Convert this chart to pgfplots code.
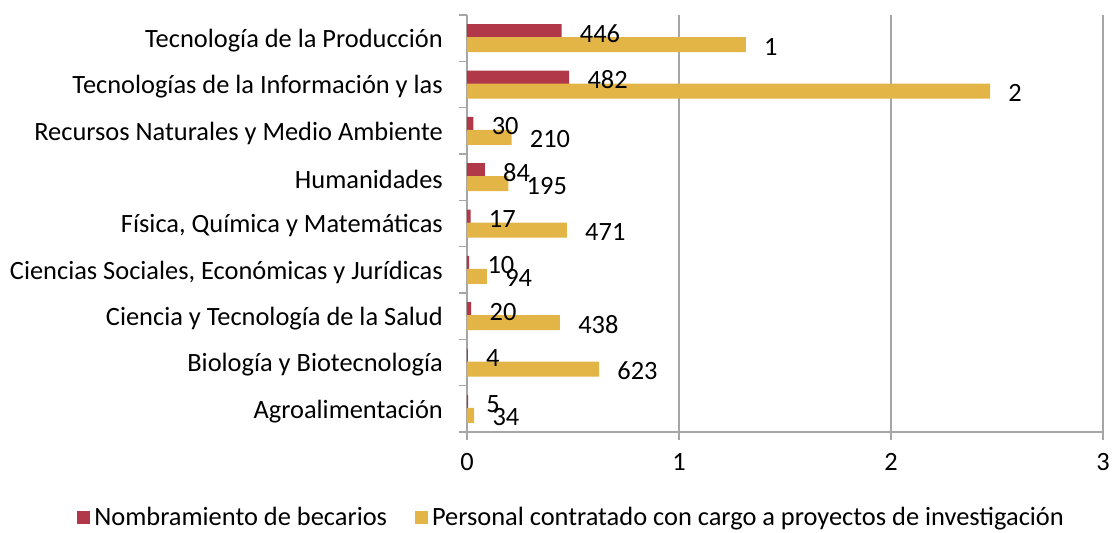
\documentclass[border=0pt]{standalone}
\usepackage{pgfplots}
\pgfplotsset{compat=1.18}
\usepackage{fontspec}
\setmainfont{Carlito}
\definecolor{cred}{RGB}{176,56,72}
\definecolor{cyel}{RGB}{227,180,70}
\definecolor{cgrid}{RGB}{166,166,166}
\begin{document}
\fontsize{13.2pt}{15pt}\selectfont
\begin{tikzpicture}
\useasboundingbox (-233.5pt,-50pt) rectangle (325.5pt,216pt);
\begin{axis}[
  scale only axis, width=318pt, height=208.5pt,
  xbar, bar width=7.5pt,
  xmin=0, xmax=3, ymin=-0.5, ymax=8.5,
  xtick={0,1,2,3}, xmajorgrids, grid style={cgrid, line width=0.8pt},
  ytick={0,...,8},
  yticklabels={Agroalimentación, Biología y Biotecnología, Ciencia y Tecnología de la Salud, {Ciencias Sociales, Económicas y Jurídicas}, {Física, Química y Matemáticas}, Humanidades, Recursos Naturales y Medio Ambiente, Tecnologías de la Información y las, Tecnología de la Producción},
  minor ytick={-0.5,0.5,...,8.5},
  major y tick style={draw=none},
  tick align=outside, tick style={cgrid, line width=0.8pt},
  major tick length=4pt, minor tick length=4pt,
  axis x line*=bottom, axis y line*=left,
  axis line style={cgrid, line width=1pt},
  every tick label/.append style={font=\fontsize{13.2pt}{15pt}\selectfont, text=black},
  /pgf/number format/assume math mode=true,
  yticklabel style={xshift=-3.5pt, yshift=-1.2pt},
  xticklabel style={yshift=-2pt},
  point meta=explicit symbolic,
  nodes near coords,
  every node near coord/.append style={anchor=west, inner sep=0pt, xshift=9pt, yshift=-1pt, font=\fontsize{13.2pt}{15pt}\selectfont, text=black},
  legend style={at={(0.166,-0.206)}, anchor=center, draw=none, fill=none, legend columns=2, font=\fontsize{13.2pt}{15pt}\selectfont, /tikz/every even column/.append style={column sep=12pt}},
  legend image code/.code={\fill[#1] (0pt,-3.25pt) rectangle (6.5pt,3.25pt);},
]
\addplot[fill=cred, draw=none, bar shift=3.25pt] coordinates {
(0.005,0) [5]
(0.004,1) [4]
(0.020,2) [20]
(0.010,3) [10]
(0.017,4) [17]
(0.084,5) [84]
(0.030,6) [30]
(0.482,7) [482]
(0.446,8) [446]
};
\addplot[fill=cyel, draw=none, bar shift=-3.25pt] coordinates {
(0.034,0) [34]
(0.623,1) [623]
(0.438,2) [438]
(0.094,3) [94]
(0.471,4) [471]
(0.195,5) [195]
(0.210,6) [210]
(2.467,7) [2]
(1.315,8) [1]
};
\legend{Nombramiento de becarios, Personal contratado con cargo a proyectos de investigación}
\end{axis}
\end{tikzpicture}
\end{document}
